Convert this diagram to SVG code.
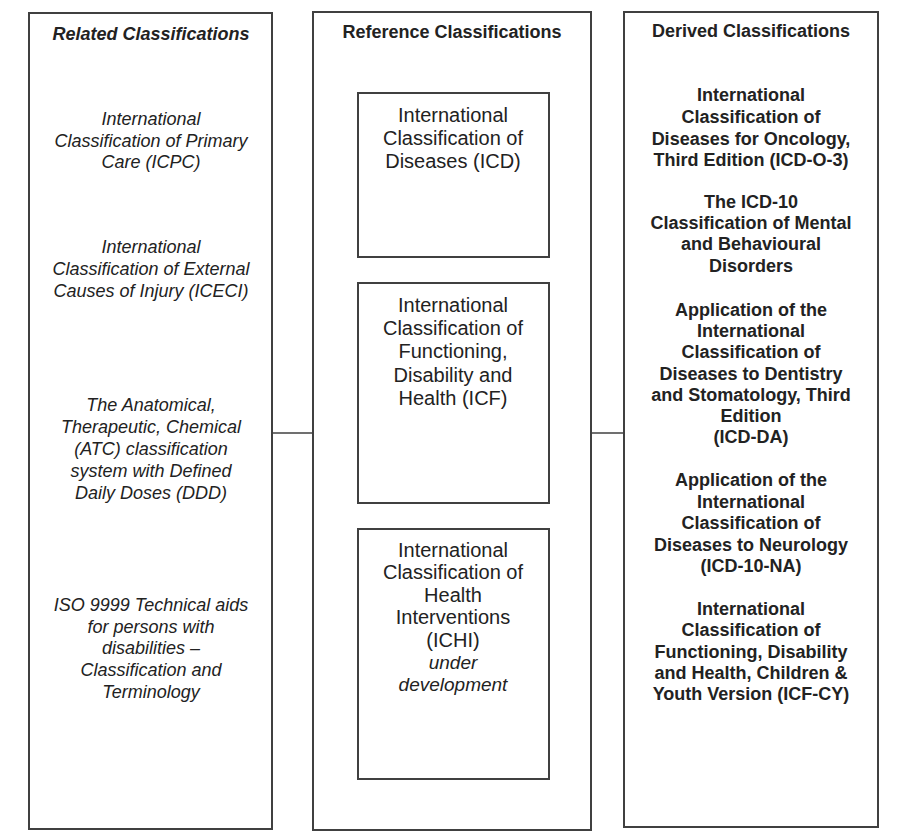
<svg xmlns="http://www.w3.org/2000/svg" width="906" height="838" viewBox="0 0 906 838">
<style>
.box{fill:#fff;stroke:#404040;stroke-width:2}
.conn{stroke:#404040;stroke-width:1.6;fill:none}
text{font-family:"Liberation Sans",Arial,sans-serif;fill:#222;text-anchor:middle}
.title{font-size:18px;font-weight:bold}
.ti{font-style:italic}
.rel{font-size:18px;font-style:italic}
.ref{font-size:20px}
.der{font-size:18px;font-weight:bold}
</style>
<rect width="906" height="838" fill="#fff"/>
<g id="connectors">
<line class="conn" x1="272" y1="433" x2="313" y2="433"/>
<line class="conn" x1="591" y1="433" x2="624" y2="433"/>
</g>
<g id="related">
<rect class="box" x="29" y="13" width="243" height="816"/>
<text class="title ti" x="151" y="40">Related Classifications</text>
<text class="rel" x="151" y="125">International</text>
<text class="rel" x="151" y="147">Classification of Primary</text>
<text class="rel" x="151" y="168">Care (ICPC)</text>
<text class="rel" x="151" y="253">International</text>
<text class="rel" x="151" y="275">Classification of External</text>
<text class="rel" x="151" y="297">Causes of Injury (ICECI)</text>
<text class="rel" x="151" y="411">The Anatomical,</text>
<text class="rel" x="151" y="433">Therapeutic, Chemical</text>
<text class="rel" x="151" y="455">(ATC) classification</text>
<text class="rel" x="151" y="477">system with Defined</text>
<text class="rel" x="151" y="499">Daily Doses (DDD)</text>
<text class="rel" x="151" y="611">ISO 9999 Technical aids</text>
<text class="rel" x="151" y="633">for persons with</text>
<text class="rel" x="151" y="654">disabilities –</text>
<text class="rel" x="151" y="676">Classification and</text>
<text class="rel" x="151" y="698">Terminology</text>
</g>
<g id="reference">
<rect class="box" x="313" y="12" width="278" height="818"/>
<text class="title" x="452" y="38">Reference Classifications</text>
</g>
<g id="icd">
<rect class="box" x="358" y="93" width="191" height="164"/>
<text class="ref" x="453" y="122">International</text>
<text class="ref" x="453" y="145">Classification of</text>
<text class="ref" x="453" y="168">Diseases (ICD)</text>
</g>
<g id="icf">
<rect class="box" x="358" y="283" width="191" height="220"/>
<text class="ref" x="453" y="312">International</text>
<text class="ref" x="453" y="335">Classification of</text>
<text class="ref" x="453" y="358">Functioning,</text>
<text class="ref" x="453" y="382">Disability and</text>
<text class="ref" x="453" y="405">Health (ICF)</text>
</g>
<g id="ichi">
<rect class="box" x="358" y="529" width="191" height="250"/>
<text class="ref" x="453" y="557">International</text>
<text class="ref" x="453" y="579">Classification of</text>
<text class="ref" x="453" y="602">Health</text>
<text class="ref" x="453" y="624">Interventions</text>
<text class="ref" x="453" y="647">(ICHI)</text>
<text class="ref ti" x="453" y="669" style="font-size:19px">under</text>
<text class="ref ti" x="453" y="691" style="font-size:19px">development</text>
</g>
<g id="derived">
<rect class="box" x="624" y="12" width="254" height="815"/>
<text class="title" x="751" y="37">Derived Classifications</text>
<text class="der" x="751" y="101">International</text>
<text class="der" x="751" y="123">Classification of</text>
<text class="der" x="751" y="145">Diseases for Oncology,</text>
<text class="der" x="751" y="166">Third Edition (ICD-O-3)</text>
<text class="der" x="751" y="208">The ICD-10</text>
<text class="der" x="751" y="229">Classification of Mental</text>
<text class="der" x="751" y="250">and Behavioural</text>
<text class="der" x="751" y="272">Disorders</text>
<text class="der" x="751" y="316">Application of the</text>
<text class="der" x="751" y="337">International</text>
<text class="der" x="751" y="358">Classification of</text>
<text class="der" x="751" y="380">Diseases to Dentistry</text>
<text class="der" x="751" y="401">and Stomatology, Third</text>
<text class="der" x="751" y="422">Edition</text>
<text class="der" x="751" y="443">(ICD-DA)</text>
<text class="der" x="751" y="486">Application of the</text>
<text class="der" x="751" y="508">International</text>
<text class="der" x="751" y="529">Classification of</text>
<text class="der" x="751" y="551">Diseases to Neurology</text>
<text class="der" x="751" y="572">(ICD-10-NA)</text>
<text class="der" x="751" y="615">International</text>
<text class="der" x="751" y="636">Classification of</text>
<text class="der" x="751" y="658">Functioning, Disability</text>
<text class="der" x="751" y="679">and Health, Children &amp;</text>
<text class="der" x="751" y="700">Youth Version (ICF-CY)</text>
</g>
</svg>
